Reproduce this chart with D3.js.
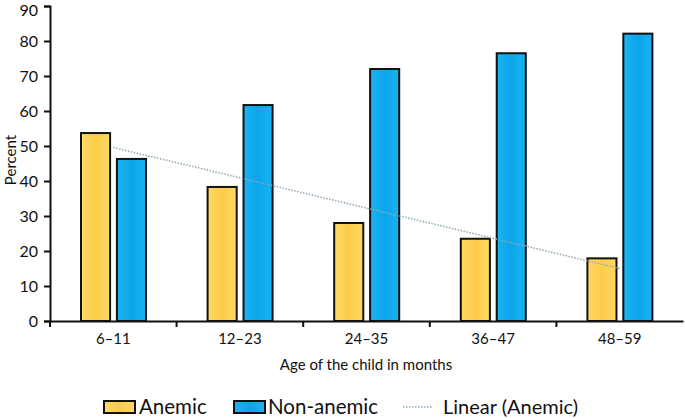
<!DOCTYPE html>
<html>
<head>
<meta charset="utf-8">
<script src="https://cdn.jsdelivr.net/npm/d3@7"></script>
<style>
body { margin:0; background:#fff; }
svg text { font-family: Lato, "Open Sans", sans-serif; fill:#111; }
</style>
</head>
<body>
<div id="chart"></div>
<script>
var ages = ['6–11', '12–23', '24–35', '36–47', '48–59'];
var anemic = [53.7, 38.3, 28.0, 23.5, 17.9];
var nonAnemic = [46.3, 61.7, 72.0, 76.5, 82.1];
var series = ['Anemic', 'Non-anemic'];
var yTicks = [0, 10, 20, 30, 40, 50, 60, 70, 80, 90];

var svg = d3.select('#chart').append('svg').attr('width', 685).attr('height', 418);

var defs = svg.append('defs');
function grad(id, edge, mid) {
    var g = defs.append('linearGradient').attr('id', id).attr('x1', 0).attr('x2', 1).attr('y1', 0).attr('y2', 0);
    g.append('stop').attr('offset', '0%').attr('stop-color', edge);
    g.append('stop').attr('offset', '50%').attr('stop-color', mid);
    g.append('stop').attr('offset', '100%').attr('stop-color', edge);
}
grad('gY', '#ffda62', '#fccb4c');
grad('gB', '#1cb2f1', '#0aa6ea');
var fills = ['url(#gY)', 'url(#gB)'];

var x = d3.scaleBand().domain(ages).range([50, 683]).padding(0);
var x1 = d3.scaleBand().domain(series).range([31, 96]).paddingInner(0.19).paddingOuter(0);
var y = d3.scaleLinear().domain([0, 90]).range([321, 6]);

// bars
var groups = svg.append('g').selectAll('g').data(ages).enter().append('g')
    .attr('transform', function(d) { return 'translate(' + x(d) + ',0)'; });
groups.selectAll('rect').data(function(d, i) { return [anemic[i], nonAnemic[i]]; })
    .enter().append('rect')
    .attr('x', function(d, j) { return x1(series[j]); })
    .attr('y', function(d) { return y(d); })
    .attr('width', x1.bandwidth())
    .attr('height', function(d) { return y(0) - y(d); })
    .style('fill', function(d, j) { return fills[j]; })
    .attr('stroke', '#111').attr('stroke-width', 2);

// linear trend of anemic
var n = anemic.length, mx = (n + 1) / 2, my = d3.mean(anemic);
var slope = d3.sum(anemic, function(v, i) { return (i + 1 - mx) * (v - my); }) /
            d3.sum(anemic, function(v, i) { return (i + 1 - mx) * (i + 1 - mx); });
var trend = ages.map(function(a, i) { return [x(a) + x.bandwidth() / 2, y(my + slope * (i + 1 - mx))]; });
svg.append('path').attr('d', d3.line()(trend))
    .attr('fill', 'none').attr('stroke', '#8ea8b6').attr('stroke-width', 1.5).attr('stroke-dasharray', '1.5,1.5');

// axes
var yAxis = svg.append('g').attr('transform', 'translate(50,0)')
    .call(d3.axisLeft(y).tickValues(yTicks).tickSize(6).tickPadding(6));
yAxis.select('.domain').attr('stroke', '#111').attr('stroke-width', 2);
yAxis.selectAll('line').attr('stroke', '#111').attr('stroke-width', 2);
yAxis.selectAll('text').style('font-size', '16px');
yAxis.selectAll('.tick').filter(function(d) { return d == 90; }).select('text').attr('dy', '0.6em');

var xAxis = svg.append('g').attr('transform', 'translate(0,321)')
    .call(d3.axisBottom(x).tickSize(0).tickPadding(12));
xAxis.select('.domain').attr('stroke', '#111').attr('stroke-width', 2);
xAxis.selectAll('text').style('font-size', '15px');
svg.append('g').selectAll('line').data(ages).enter().append('line')
    .attr('x1', function(d) { return x(d); }).attr('x2', function(d) { return x(d); })
    .attr('y1', 321).attr('y2', 327).attr('stroke', '#111').attr('stroke-width', 2);

svg.append('text').attr('x', 366).attr('y', 370).attr('text-anchor', 'middle')
    .style('font-size', '15px').text('Age of the child in months');
svg.append('text').attr('transform', 'translate(16,160) rotate(-90)').attr('text-anchor', 'middle')
    .style('font-size', '15px').text('Percent');

// legend
var leg = svg.append('g');
leg.append('rect').attr('x', 104).attr('y', 401).attr('width', 31).attr('height', 12)
    .style('fill', fills[0]).attr('stroke', '#111').attr('stroke-width', 2);
leg.append('text').attr('x', 139).attr('y', 414).style('font-size', '20.5px').text('Anemic');
leg.append('rect').attr('x', 234).attr('y', 401).attr('width', 31).attr('height', 12)
    .style('fill', fills[1]).attr('stroke', '#111').attr('stroke-width', 2);
leg.append('text').attr('x', 268).attr('y', 414).style('font-size', '20.5px').text('Non-anemic');
leg.append('line').attr('x1', 403).attr('x2', 432).attr('y1', 407).attr('y2', 407)
    .attr('stroke', '#8ea8b6').attr('stroke-width', 1.5).attr('stroke-dasharray', '1.5,1.5');
leg.append('text').attr('x', 443).attr('y', 414).style('font-size', '20px').text('Linear (Anemic)');
</script>
</body>
</html>
